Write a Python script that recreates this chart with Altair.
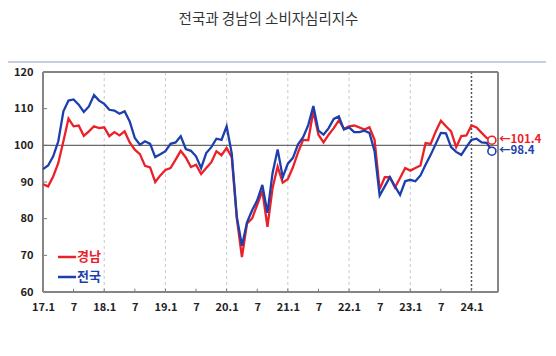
import altair as alt
import pandas as pd

# ---- data (month index 0 = 2017.1 ... 88 = 2024.5) ----
national = [
    93.5, 94.5, 97.0, 101.1, 109.3, 112.2, 112.5, 111.1, 109.1, 110.6, 113.7, 112.2,
    111.3, 109.7, 109.5, 108.6, 109.3, 106.5, 102.0, 100.2, 101.1, 100.4, 96.8, 97.6,
    98.4, 100.4, 100.8, 102.5, 99.0, 98.5, 97.0, 93.8, 97.9, 99.5, 101.8, 101.5,
    105.2, 97.8, 80.5, 72.6, 79.0, 82.3, 85.0, 89.2, 81.6, 92.4, 98.9, 91.3,
    95.0, 96.6, 100.3, 102.2, 105.5, 110.7, 104.0, 102.9, 104.7, 107.2, 107.9, 104.3,
    104.9, 103.6, 103.6, 104.0, 103.4, 98.4, 86.3, 88.8, 91.3, 88.8, 86.5, 90.2,
    90.6, 90.2, 91.8, 94.7, 97.4, 100.4, 103.4, 103.3, 99.5, 98.2, 97.4, 99.5,
    101.5, 101.8, 100.8, 100.7, 98.4,
]
gyeongnam = [
    89.4, 88.8, 91.5, 95.2, 101.1, 107.3, 105.2, 105.4, 102.6, 103.8, 105.2, 104.7,
    104.9, 102.5, 103.6, 102.7, 103.8, 100.8, 98.8, 97.6, 94.4, 94.0, 90.0, 91.8,
    93.3, 93.8, 96.1, 98.5, 96.7, 94.1, 94.7, 92.2, 93.8, 95.4, 98.4, 97.3,
    99.3, 96.8, 80.0, 69.5, 78.7, 80.1, 83.8, 87.6, 77.8, 88.3, 94.2, 89.8,
    90.8, 94.0, 98.1, 101.5, 101.4, 109.3, 102.9, 100.8, 102.9, 104.7, 106.8, 104.5,
    105.2, 105.4, 104.9, 104.3, 104.9, 101.5, 88.0, 91.3, 91.3, 88.5, 91.1, 93.8,
    93.1, 93.8, 94.5, 100.6, 100.4, 103.8, 106.7, 105.2, 103.8, 99.5, 102.5, 102.7,
    105.4, 104.9, 103.4, 102.0, 101.4,
]
series_names = ["경남", "전국"]
series_colors = ["#ec2028", "#1d3fae"]

tick_values = [0, 6, 12, 18, 24, 30, 36, 42, 48, 54, 60, 66, 72, 78, 84]
tick_labels = ["17.1", "7", "18.1", "7", "19.1", "7", "20.1", "7",
               "21.1", "7", "22.1", "7", "23.1", "7", "24.1"]
year_lines = [12, 24, 36, 48, 60, 72]
current_year_line = [84]
y_ticks = [60, 70, 80, 90, 100, 110, 120]
x_domain = [0, 89.2]
y_domain = [60, 120]

FONT = "Noto Sans CJK KR"

n = len(national)
df = pd.DataFrame({
    "m": list(range(n)) * 2,
    "v": gyeongnam + national,
    "s": [series_names[0]] * n + [series_names[1]] * n,
})
last = pd.DataFrame({
    "m": [n - 1, n - 1],
    "v": [gyeongnam[-1], national[-1]],
    "s": series_names,
})
last["label"] = ["←" + f"{v:.1f}" for v in last["v"]]

xs = alt.Scale(domain=x_domain, nice=False, zero=False)
ys = alt.Scale(domain=y_domain, nice=False, zero=False)
cs = alt.Scale(domain=series_names, range=series_colors)

label_expr = "[" + ",".join("'" + t + "'" for t in tick_labels) + "][datum.value / 6]"

xaxis = alt.Axis(values=tick_values, labelExpr=label_expr, grid=False, domain=False,
                 ticks=False, labelPadding=9, labelFontSize=11, labelFontWeight="bold",
                 labelColor="#222", title=None, labelFont=FONT, labelOverlap=False,
                 labelFlush=False)
yaxis = alt.Axis(values=y_ticks, grid=False, domain=False, ticks=False, labelPadding=10,
                 labelFontSize=11, labelFontWeight="bold", labelColor="#222",
                 title=None, labelFont=FONT, labelOverlap=False, labelFlush=False)


def X(f):
    return alt.X(f, scale=xs, axis=xaxis)


def Y(f):
    return alt.Y(f, scale=ys, axis=yaxis)


grid = alt.Chart(pd.DataFrame({"m": year_lines})).mark_rule(
    color="#c8c8c8", strokeDash=[3, 3], strokeWidth=1
).encode(x=X("m:Q"))

grid24 = alt.Chart(pd.DataFrame({"m": current_year_line})).mark_rule(
    color="#555555", strokeDash=[2, 2], strokeWidth=1.5
).encode(x=X("m:Q"))

xt = pd.DataFrame({"m": tick_values, "v": [60] * len(tick_values), "v2": [60.9] * len(tick_values)})
xticks = alt.Chart(xt).mark_rule(color="#777", strokeWidth=1).encode(
    x=X("m:Q"), y=Y("v:Q"), y2="v2:Q")

yt = pd.DataFrame({"v": y_ticks, "m": [0] * len(y_ticks), "m2": [0.8] * len(y_ticks)})
yticks = alt.Chart(yt).mark_rule(color="#777", strokeWidth=1).encode(
    y=Y("v:Q"), x=X("m:Q"), x2="m2:Q")

# plot frame
frame_v = alt.Chart(pd.DataFrame({"m": x_domain})).mark_rule(color="#858585", strokeWidth=2).encode(
    x=X("m:Q"))
frame_h = alt.Chart(pd.DataFrame({"v": y_domain})).mark_rule(color="#858585", strokeWidth=2).encode(
    y=Y("v:Q"))

ref100 = alt.Chart(pd.DataFrame({"v": [100]})).mark_rule(color="#6a6a6a", strokeWidth=1.3).encode(
    y=Y("v:Q"))

lines = alt.Chart(df).mark_line(strokeWidth=2.3).encode(
    x=X("m:Q"), y=Y("v:Q"),
    color=alt.Color("s:N", scale=cs, legend=None),
)

circles = alt.Chart(last).mark_point(shape="circle", filled=False, size=64, strokeWidth=1.6,
                                     fill="white", fillOpacity=1, opacity=1).encode(
    x=X("m:Q"), y=Y("v:Q"),
    color=alt.Color("s:N", scale=cs, legend=None),
)

end_text = alt.Chart(last).mark_text(align="left", baseline="middle", dx=7, fontSize=11.5,
                                     fontWeight="bold", font=FONT).encode(
    x=X("m:Q"), y=Y("v:Q"),
    text="label:N",
    color=alt.Color("s:N", scale=cs, legend=None),
)

# top decorative rule
top_rule = alt.Chart(pd.DataFrame({"a": [0]})).mark_rule(color="#c6d0dc", strokeWidth=2).encode(
    x=alt.value(-38), x2=alt.value(504), y=alt.value(-10))

# manual legend
leg = []
for i, (nm, col) in enumerate(zip(series_names, series_colors)):
    yy = 185 + i * 20
    leg.append(alt.Chart(pd.DataFrame({"a": [0]})).mark_rule(color=col, strokeWidth=2.5).encode(
        x=alt.value(15), x2=alt.value(33), y=alt.value(yy)))
    leg.append(alt.Chart(pd.DataFrame({"a": [0]})).mark_text(
        text=nm, color=col, fontSize=13, fontWeight="bold", align="left", baseline="middle",
        font=FONT).encode(x=alt.value(34), y=alt.value(yy)))

chart = alt.layer(
    grid, grid24, xticks, yticks, frame_v, frame_h, ref100, lines, circles, end_text,
    top_rule, *leg
).properties(
    width=455, height=220,
    padding={"left": 35, "top": 64, "right": 48, "bottom": 40},
    autosize=alt.AutoSizeParams(type="none"),
    title=alt.TitleParams("전국과 경남의 소비자심리지수", fontSize=14.5, fontWeight="normal",
                          color="#333", font=FONT, anchor="middle", offset=34, dx=-2,
                          frame="group"),
).configure_view(stroke="#858585", strokeWidth=2).configure_axis(
    labelOverlap=False, labelFlush=False
).configure(font=FONT)

chart.save("out.html", embed_options={"renderer": "svg", "actions": False})
